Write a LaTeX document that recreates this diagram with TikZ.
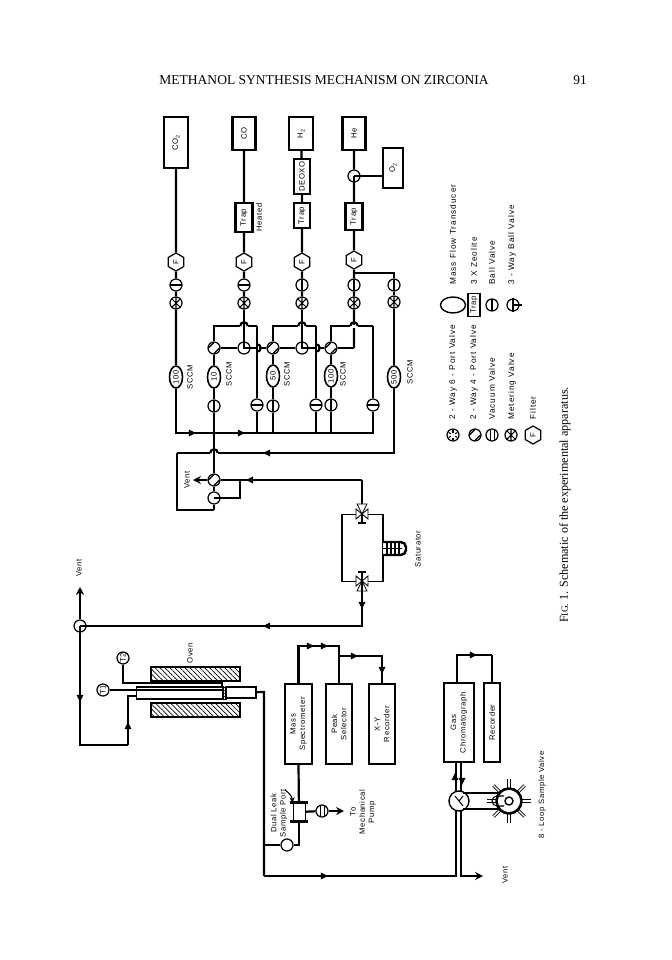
\documentclass[tikz,border=0pt]{standalone}
\usepackage{fontspec}
\usepackage{tikz}
\usetikzlibrary{shapes.geometric, patterns.meta, arrows.meta}
\setmainfont{Liberation Serif}
\newfontfamily\labelfam[LetterSpace=8]{Liberation Sans}
\newfontfamily\legendfam[LetterSpace=12]{Liberation Sans}
\newcommand{\labelfont}{\labelfam\fontsize{4.4}{5.3}\selectfont}
\newcommand{\legendfont}{\legendfam\fontsize{4.7}{5.6}\selectfont}
\newcommand{\hophor}[1]{
	\fill[white] ([shift={(-.075cm,-.03cm)}]#1) rectangle ([shift={(.075cm,.03cm)}]#1);
	\draw[wire] ([xshift=-.075cm]#1) arc[start angle=180, end angle=0, radius=.075cm];
}
\newcommand{\hopver}[1]{
	\fill[white] ([shift={(-.03cm,-.075cm)}]#1) rectangle ([shift={(.03cm,.075cm)}]#1);
	\draw[wire] ([yshift=.075cm]#1) arc[start angle=90, end angle=-90, radius=.075cm];
}
\tikzset{
	wire/.style={line width=1.25pt},
	thinwire/.style={line width=.6pt},
	lbl/.style={rotate=90, font=\labelfont, inner sep=0, align=center},
	leglbl/.style={rotate=90, font=\legendfont, inner sep=0, anchor=west},
	gasbox/.style={draw, fill=white, line width=1.3pt, rotate=90, inner sep=0, font=\labelfont, align=center},
	mfc/.style={ellipse, draw, fill=white, line width=.9pt, rotate=90, inner sep=0, minimum width=.44cm, minimum height=.26cm, font=\labelfont},
	filt/.style={regular polygon, regular polygon sides=6, draw, fill=white, line width=.7pt, rotate=90, inner sep=0, minimum size=.36cm, font=\labelfont},
	valve/.style={circle, draw, fill=white, line width=.7pt, inner sep=0, minimum size=.24cm},
	ballh/.style={valve, path picture={\draw[line width=.6pt] (path picture bounding box.west) -- (path picture bounding box.east);}},
	ballv/.style={valve, path picture={\draw[line width=.6pt] (path picture bounding box.north) -- (path picture bounding box.south);}},
	vacuum/.style={valve, path picture={\draw[line width=.5pt] ([xshift=-.04cm]path picture bounding box.north) -- ([xshift=-.04cm]path picture bounding box.south) ([xshift=.04cm]path picture bounding box.north) -- ([xshift=.04cm]path picture bounding box.south);}},
	meter/.style={valve, path picture={\draw[line width=.6pt] (path picture bounding box.north west) -- (path picture bounding box.south east) (path picture bounding box.north east) -- (path picture bounding box.south west) (path picture bounding box.north) -- (path picture bounding box.south);}},
	fourport/.style={valve, path picture={\draw[line width=.7pt] ([shift={(-.11cm,0cm)}]path picture bounding box.center) -- ([shift={(0cm,.11cm)}]path picture bounding box.center) ([shift={(0cm,-.11cm)}]path picture bounding box.center) -- ([shift={(.11cm,0cm)}]path picture bounding box.center);}},
	sixport/.style={valve, path picture={\foreach \spoke in {30,90,...,330} \draw[line width=.6pt] ([shift={(\spoke:.05cm)}]path picture bounding box.center) -- ([shift={(\spoke:.1cm)}]path picture bounding box.center);}},
	flowtip/.style={isosceles triangle, isosceles triangle apex angle=60, isosceles triangle stretches, fill=black, inner sep=0, minimum height=.14cm, minimum width=.14cm},
	brick/.style={draw, line width=1pt, pattern={Lines[angle=-45, distance=2pt, line width=.4pt]}, minimum width=1.78cm, minimum height=.28cm, inner sep=0},
	satvalve/.pic={
		\draw[line width=.5pt, fill=white] (-5,-10) -- (5,-10) -- (0,0) -- cycle;
		\draw[line width=.5pt, fill=white] (-6,-5) -- (-6,5) -- (0,0) -- cycle;
		\draw[line width=.5pt, fill=white] (6,-5) -- (6,5) -- (0,0) -- cycle;
		\draw[line width=.6pt] (0,0) -- (0,9) (-4,9) -- (4,9);
		\fill (0,0) circle (1.2);
	},
}
\begin{document}
\begin{tikzpicture}[x=0.02cm, y=-0.02cm]
	\useasboundingbox (0,0) rectangle (672,960);
	% Page head and caption:
	\node[inner sep=0, font=\fontsize{7.7}{9}\selectfont] (pagehead) at (324,80) {METHANOL SYNTHESIS MECHANISM ON ZIRCONIA};
	\node[inner sep=0, font=\fontsize{7.6}{9}\selectfont] (pagenum) at (580,80) {91};
	\node[rotate=90, inner sep=0, font=\fontsize{6.9}{8}\selectfont] (figcaption) at (565,505) {F{\fontsize{5.4}{8}\selectfont IG.} 1. Schematic of the experimental apparatus.};

	% Gas cylinders and traps:
	\node[gasbox, minimum width=1.02cm, minimum height=.48cm] (cotwobox) at (176,142.5) {CO\textsubscript{2}};
	\node[gasbox, minimum width=.66cm, minimum height=.46cm] (cobox) at (244,133.5) {CO};
	\node[gasbox, minimum width=.66cm, minimum height=.48cm] (htwobox) at (301,133.5) {H\textsubscript{2}};
	\node[gasbox, minimum width=.66cm, minimum height=.46cm] (hebox) at (354,133.5) {He};
	\node[gasbox, minimum width=.8cm, minimum height=.4cm, line width=.9pt] (otwobox) at (393,168) {O\textsubscript{2}};
	\node[gasbox, minimum width=.58cm, minimum height=.34cm] (trapco) at (244,217.5) {Trap};
	\node[gasbox, minimum width=.7cm, minimum height=.32cm] (deoxo) at (302,176.5) {DEOXO};
	\node[gasbox, minimum width=.5cm, minimum height=.32cm] (traphtwo) at (302,215.5) {Trap};
	\node[gasbox, minimum width=.54cm, minimum height=.34cm] (traphe) at (354,216.5) {Trap};
	\node[lbl] (heatedlbl) at (259,217.5) {Heated};
	\node[valve] (threehe) at (354,176) {};
	\coordinate (otwoin) at (383,176);

	% Filters and valves:
	\node[filt] (filtcotwo) at (176,262) {F};
	\node[filt] (filtco) at (244,262) {F};
	\node[filt] (filthtwo) at (302,262) {F};
	\node[filt] (filthe) at (354,260) {F};
	\node[ballh] (ballcotwo) at (176,285) {};
	\node[ballh] (ballco) at (244,285) {};
	\node[ballv] (ballhtwo) at (302,285) {};
	\node[ballv] (ballhe) at (354,285) {};
	\node[ballv] (ballfive) at (394,285) {};
	\node[meter] (metercotwo) at (176,303) {};
	\node[meter] (meterco) at (244,303) {};
	\node[meter] (meterhtwo) at (302,303) {};
	\node[meter] (meterhe) at (354,303) {};
	\node[meter] (meterfive) at (394,302) {};
	\node[fourport] (portten) at (214,348) {};
	\node[fourport] (portfifty) at (273,348) {};
	\node[fourport] (porthundred) at (331,348) {};
	\node[valve] (threeco) at (244,348) {};
	\node[valve] (threehtwo) at (302,348) {};
	\coordinate (hejoin) at (354,348);

	% Flow transducers:
	\node[mfc] (mfccotwo) at (176,377) {100};
	\node[mfc] (mfcten) at (214,377) {10};
	\node[mfc] (mfcfifty) at (273,376) {50};
	\node[mfc] (mfchundred) at (331,376) {100};
	\node[mfc] (mfcfive) at (394,377) {500};
	\node[lbl] (sccma) at (190,377) {SCCM};
	\node[lbl] (sccmb) at (229,374) {SCCM};
	\node[lbl] (sccmc) at (287,374) {SCCM};
	\node[lbl] (sccmd) at (343,374) {SCCM};
	\node[lbl] (sccme) at (410,372) {SCCM};
	\node[ballv] (ballten) at (214,406) {};
	\node[ballv] (ballfifty) at (273,406) {};
	\node[ballv] (ballhundred) at (331,405) {};
	\node[ballh] (loopten) at (257,405) {};
	\node[ballh] (loopfifty) at (316,405) {};
	\node[ballh] (loophundred) at (373,405) {};

	% Corners of the lines:
	\coordinate (busend) at (374,433);
	\coordinate (cornerten) at (257,326);
	\coordinate (cornerfifty) at (316,326);
	\coordinate (cornerhundred) at (373,326);
	\coordinate (ventnw) at (177,453);
	\coordinate (ventsw) at (214,510);
	\coordinate (ventout) at (193,480);
	\coordinate (ventjoin) at (240,480);
	\coordinate (satin) at (362,480);
	\coordinate (hesplit) at (354,273);
	\coordinate (hesplitr) at (394,273);

	% Gas lines:
	\draw[wire] (cotwobox) -- (filtcotwo) -- (ballcotwo) -- (metercotwo) -- (mfccotwo);
	\draw[wire] (mfccotwo) |- (busend);
	\draw[wire] (cobox) -- (trapco) -- (filtco) -- (ballco) -- (meterco);
	\draw[wire] (htwobox) -- (deoxo) -- (traphtwo) -- (filthtwo) -- (ballhtwo) -- (meterhtwo);
	\draw[wire] (hebox) -- (threehe) -- (traphe) -- (filthe) -- (ballhe) -- (meterhe) -- (hejoin);
	\draw[wire] (threehe) -- (otwoin);
	\draw[wire] (threehe.center) -- (threehe.east) (threehe.center) -- (threehe.south);
	\draw[wire] (hesplit) -- (hesplitr) -- (ballfive) -- (meterfive) -- (mfcfive);
	\draw[wire] (mfcfive) |- (ventnw);
	\draw[wire] (ventnw) |- (ventsw);
	\draw[wire] (portten) -- (threeco) -- (portfifty) -- (threehtwo) -- (porthundred) -- (hejoin);
	\draw[wire] (portten) |- (cornerten);
	\draw[wire] (portfifty) |- (cornerfifty);
	\draw[wire] (porthundred) |- (cornerhundred);
	\hophor{244,326}
	\hophor{302,326}
	\hophor{354,326}
	\hopver{257,348}
	\hopver{316,348}
	\hophor{214,453}
	\draw[wire] (meterco) -- (threeco.center) -- (threeco.east);
	\draw[wire] (meterhtwo) -- (threehtwo.center) -- (threehtwo.east);
	\draw[wire] (cornerten) -- (loopten);
	\draw[wire] (cornerfifty) -- (loopfifty);
	\draw[wire] (cornerhundred) -- (loophundred);
	\draw[wire] (loopten) -- (loopten |- busend);
	\draw[wire] (loopfifty) -- (loopfifty |- busend);
	\draw[wire] (loophundred) -- (loophundred |- busend);
	\draw[wire] (portfifty) -- (mfcfifty) -- (ballfifty) -- (ballfifty |- busend);
	\draw[wire] (porthundred) -- (mfchundred) -- (ballhundred) -- (ballhundred |- busend);
	\node[flowtip] (tipa) at (191,433) {};
	\node[flowtip] (tipb) at (240,433) {};
	\node[flowtip, rotate=180] (tipc) at (268,453) {};

	% Vent valves and saturator:
	\node[fourport] (ventfour) at (214,480) {};
	\node[valve] (ventthree) at (214,498) {};
	\node[lbl] (ventlbla) at (187,480) {Vent};
	\node[draw, line width=.9pt, minimum width=.82cm, minimum height=1.34cm, inner sep=0] (satbox) at (362.5,548) {};
	\node[lbl] (satlbl) at (418,549) {Saturator};
	\draw[wire] (portten) -- (mfcten) -- (ballten) -- (ventfour);
	\draw[wire] (ventfour) -- (ventthree);
	\draw[wire] (ventsw) -- (ventthree);
	\draw[wire, -{Stealth[length=4.5pt, width=4.5pt]}] (ventfour) -- (ventout);
	\draw[wire] (ventfour) -- (satin);
	\draw[wire] (ventjoin) |- (ventthree);
	\draw[wire] (ventthree.center) -- (ventthree.east);
	\draw[wire] (satin) -- (362,514);
	\node[flowtip, rotate=180] (tipd) at (251,480) {};
	\draw[line width=1.4pt, fill=white, rounded corners=3pt] (383,542) -- (406,542) -- (406,555) -- (383,555);
	\foreach \stripe in {387,391,395,399}
		\draw[line width=.6pt] (\stripe,542) -- (\stripe,555);
	\draw[line width=.6pt] (383,548.5) -- (402,548.5);
	\pic at (362,514) {satvalve};
	\pic[rotate=180] at (362,581) {satvalve};

	% Oven and reactor:
	\node[valve] (threeout) at (80,626) {};
	\coordinate (ventup) at (80,587);
	\coordinate (reaclow) at (80,745);
	\coordinate (reaccorner) at (128,745);
	\coordinate (reacin) at (137,696);
	\node[lbl] (ventlblb) at (79,568) {Vent};
	\node[lbl] (ovenlbl) at (190,653) {Oven};
	\node[brick] (ovenup) at (195.5,674) {};
	\node[brick] (ovenlow) at (195.5,710) {};
	\node[draw, fill=white, line width=1pt, minimum width=1.74cm, minimum height=.24cm, inner sep=0] (reactor) at (180,693) {};
	\node[draw, line width=.4pt, pattern={Lines[angle=45, distance=1.2pt, line width=.3pt]}, minimum width=.08cm, minimum height=.24cm, inner sep=0] (reacplug) at (224,693) {};
	\node[draw, fill=white, line width=1pt, minimum width=.6cm, minimum height=.22cm, inner sep=0] (outblock) at (241,692.5) {};
	\node[valve, font=\labelfont] (tone) at (103,690) {\rotatebox{90}{T1}};
	\node[valve, font=\labelfont] (ttwo) at (123,658) {\rotatebox{90}{T2}};
	\coordinate (toneend) at (222,690);
	\coordinate (ttwoend) at (222,683);
	\coordinate (outcorner) at (264,692);
	\coordinate (outlow) at (264,876);
	\coordinate (satlow) at (362,581);
	\draw[wire] (satlow) |- (threeout);
	\draw[wire, -{Stealth[length=4.5pt, width=4.5pt]}] (threeout) -- (ventup);
	\draw[wire] (threeout.center) -- (threeout.east) (threeout.center) -- (threeout.south);
	\draw[wire] (threeout) |- (reaccorner);
	\draw[wire] (reaccorner) |- (reacin);
	\draw[thinwire] (tone) -- (toneend);
	\draw[wire] (ttwo) |- (ttwoend) -- (222,688);
	\draw[wire] (outblock) -- (outcorner) -- (outlow);
	\node[flowtip, rotate=180] (tipe) at (268,626) {};
	\node[flowtip, rotate=-90] (tipf) at (362,604) {};
	\node[flowtip, rotate=-90] (tipg) at (80,697) {};
	\node[flowtip, rotate=90] (tiph) at (128,727) {};

	% Mass spectrometer side:
	\node[gasbox, minimum width=1.6cm, minimum height=.54cm] (massbox) at (298.5,724) {Mass\\Spectrometer};
	\node[gasbox, minimum width=1.6cm, minimum height=.52cm] (peakbox) at (339,724) {Peak\\Selector};
	\node[gasbox, minimum width=1.6cm, minimum height=.52cm] (xybox) at (382,724) {X-Y\\Recorder};
	\node[draw, fill=white, line width=.5pt, minimum width=.24cm, minimum height=.36cm, inner sep=0] (samplebox) at (299,812) {};
	\node[valve] (leakvalve) at (287,845) {};
	\node[vacuum] (pumpvalve) at (322,811) {};
	\node[lbl] (leaklbl) at (279,813) {Dual Leak\\Sample Port};
	\node[lbl] (pumplbl) at (363,812) {To\\Mechanical\\Pump};
	\coordinate (peakjoin) at (339,646);
	\coordinate (peakout) at (339,656);
	\coordinate (xyjoin) at (382,656);
	\coordinate (leakleft) at (264,845);
	\coordinate (pumpout) at (344,811);
	\coordinate (leakpoint) at (285,790);
	\draw[wire] (massbox.east) |- (peakjoin) -- (peakbox.east);
	\draw[wire] (peakout) -- (xyjoin) -- (xybox.east);
	\draw[wire] (massbox.west) -- (samplebox);
	\draw[wire] (samplebox) |- (leakvalve);
	\draw[wire] (leakvalve) -- (leakleft);
	\draw[wire] (samplebox) -- (pumpvalve);
	\draw[wire, -{Stealth[length=4.5pt, width=4.5pt]}] (pumpvalve) -- (pumpout);
	\draw[wire] ([xshift=-.06cm]samplebox.north west) -- ([xshift=.06cm]samplebox.north east);
	\draw[wire] ([xshift=-.06cm]samplebox.south west) -- ([xshift=.06cm]samplebox.south east);
	\draw[thinwire, -{Stealth[length=3pt, width=3pt]}] (leakpoint) to[bend left=25] (samplebox.north west);
	\node[flowtip] (tipi) at (309,646) {};
	\node[flowtip] (tipj) at (323,646) {};
	\node[flowtip] (tipk) at (353,656) {};
	\node[flowtip, rotate=-90] (tipl) at (382,669) {};

	% Gas chromatograph side:
	\node[gasbox, minimum width=1.58cm, minimum height=.6cm] (gcbox) at (459,722.5) {Gas\\Chromatograph};
	\node[gasbox, minimum width=1.58cm, minimum height=.32cm] (recbox) at (492,722.5) {Recorder};
	\node[circle, draw, fill=white, line width=.8pt, minimum size=.4cm, inner sep=0] (samplevalve) at (459,801) {};
	\node[circle, draw, line width=1.3pt, minimum size=.5cm, inner sep=0] (wheelring) at (509,801) {};
	\node[circle, draw, line width=.8pt, minimum size=.16cm, inner sep=0] (wheelhub) at (509,801) {};
	\node[lbl] (looplbl) at (542,795) {8 - Loop Sample Valve};
	\node[lbl] (ventlblc) at (505,875) {Vent};
	\coordinate (gctop) at (457,655);
	\coordinate (rectop) at (492,655);
	\coordinate (ventlow) at (483,876);
	\foreach \spoke in {0,45,...,315}
		\draw[line width=.5pt, double=white, double distance=.8pt] (509,801) ++(\spoke:11) -- ++(\spoke:11);
	\draw[line width=1.3pt] (463,793) -- (500,793);
	\draw[line width=1.3pt] (463,809) -- (500,809);
	\draw[line width=.6pt] (504,796) -- (497,796) arc[start angle=90, end angle=270, radius=.1cm] -- (504,806);
	\node[circle, draw, line width=1.3pt, minimum size=.5cm, inner sep=0] (wheelrim) at (509,801) {};
	\draw[thinwire] (samplevalve.center) -- ++(-4,-5) (samplevalve.center) -- ++(4,-5) (samplevalve.center) -- ++(4,5);
	\draw[wire] (outlow) -- (456,876) -- (456,811);
	\draw[wire] (456,762) -- (456,792);
	\draw[wire] (461,762) -- (461,792);
	\draw[wire, -{Stealth[length=4.5pt, width=4.5pt]}] (461,810) -- (461,876) -- (ventlow);
	\draw[wire] (gctop |- gcbox.east) -- (gctop) -- (rectop);
	\draw[thinwire] (rectop) -- (recbox.east);
	\node[flowtip] (tipm) at (472,655) {};
	\node[flowtip, rotate=90] (tipn) at (455,778) {};
	\node[flowtip, rotate=-90] (tipo) at (462,780) {};
	\node[flowtip] (tipp) at (323,876) {};

	% Legend:
	\node[sixport] (legsix) at (453,435) {};
	\node[fourport] (legfour) at (475,435) {};
	\node[vacuum] (legvac) at (492,435) {};
	\node[meter] (legmeter) at (511,435) {};
	\node[filt] (legfilt) at (533,435) {F};
	\node[leglbl] (legsixlbl) at (453,420) {2 - Way 6 - Port Valve};
	\node[leglbl] (legfourlbl) at (474,420) {2 - Way 4 - Port Valve};
	\node[leglbl] (legvaclbl) at (492,420) {Vacuum Valve};
	\node[leglbl] (legmeterlbl) at (512,420) {Metering Valve};
	\node[leglbl] (legfiltlbl) at (533,420) {Filter};
	\node[ellipse, draw, line width=.8pt, minimum width=.5cm, minimum height=.32cm, inner sep=0] (legmfc) at (453,305) {};
	\node[gasbox, line width=.7pt, minimum width=.46cm, minimum height=.24cm] (legtrap) at (474,305) {Trap};
	\node[ballv] (legball) at (492,305) {};
	\node[valve] (legthree) at (513,305) {};
	\node[leglbl] (legmfclbl) at (453,285) {Mass Flow Transducer};
	\node[leglbl] (legtraplbl) at (474,285) {3 X Zeolite};
	\node[leglbl] (legballlbl) at (492,285) {Ball Valve};
	\node[leglbl] (legthreelbl) at (512,285) {3 - Way Ball Valve};
	\coordinate (legstem) at (522,305);
	\draw[thinwire] (legthree.north) -- (legthree.south);
	\draw[thinwire] (legthree.center) -- (legstem);
\end{tikzpicture}
\end{document}
